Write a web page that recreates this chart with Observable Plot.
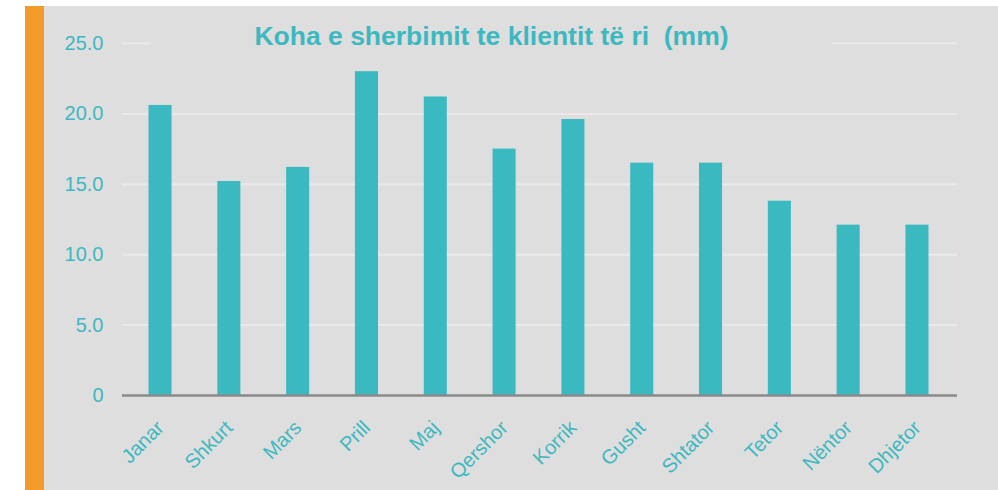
<!DOCTYPE html>
<html>
<head>
<meta charset="utf-8">
<script src="https://cdn.jsdelivr.net/npm/d3@7"></script>
<script src="https://cdn.jsdelivr.net/npm/@observablehq/plot@0.6"></script>
<style>
  html, body { margin: 0; padding: 0; background: #ffffff; }
  #wrap { position: relative; width: 998px; height: 490px; overflow: hidden; font-family: "Liberation Sans", Arial, Helvetica, sans-serif; }
  #panel { position: absolute; left: 25px; top: 6px; right: 0; bottom: 0; background: #dedede; }
  #stripe { position: absolute; left: 25px; top: 6px; width: 19px; bottom: 0; background: #f39a2b; }
  #chart { position: absolute; left: 0; top: 0; }
  #title { position: absolute; top: 18px; left: 151px; width: 681px; text-align: center; background: #dedede;
           color: #3db8c0; font-weight: bold; font-size: 26.5px; line-height: 36px; white-space: pre; }
</style>
</head>
<body>
<div id="wrap">
  <div id="panel"></div>
  <div id="stripe"></div>
  <div id="chart"></div>
  <div id="title">Koha e sherbimit te klientit të ri  (mm)</div>
</div>
<script>
const months = ["Janar","Shkurt","Mars","Prill","Maj","Qershor","Korrik","Gusht","Shtator","Tetor","Nëntor","Dhjetor"];
const values = [20.6, 15.2, 16.2, 23.0, 21.2, 17.5, 19.6, 16.5, 16.5, 13.8, 12.1, 12.1];
const yTicks = [0, 5, 10, 15, 20, 25];
const gridTicks = [5, 10, 15, 20, 25];

const data = months.map((m, i) => ({month: m, value: values[i]}));
const teal = "#3bb9c1";

const chart = Plot.plot({
  width: 998,
  height: 490,
  marginTop: 43,
  marginBottom: 95,
  marginLeft: 122,
  marginRight: 41,
  style: {background: "transparent", fontFamily: "'Liberation Sans', Arial, Helvetica, sans-serif", color: "#3db8c0"},
  x: {domain: months, range: [148.5, 928.5], paddingInner: 0.665, paddingOuter: 0, align: 0.5, round: false, label: null},
  y: {domain: [0, 25], label: null},
  marks: [
    Plot.ruleY(gridTicks, {stroke: "#e9e9e9", strokeWidth: 2}),
    Plot.barY(data, {x: "month", y: "value", fill: teal}),
    Plot.ruleY([0], {stroke: "#8a8a8a", strokeWidth: 2.5}),
    Plot.axisY(yTicks, {tickSize: 0, tickPadding: 19, fontSize: 20, fill: "#3db8c0",
      tickFormat: d => d === 0 ? "0" : d.toFixed(1), label: null}),
    Plot.axisX({tickSize: 0, tickPadding: 29, tickRotate: -45, fontSize: 20, fill: "#3db8c0", label: null})
  ]
});
document.getElementById("chart").appendChild(chart);
</script>
</body>
</html>
